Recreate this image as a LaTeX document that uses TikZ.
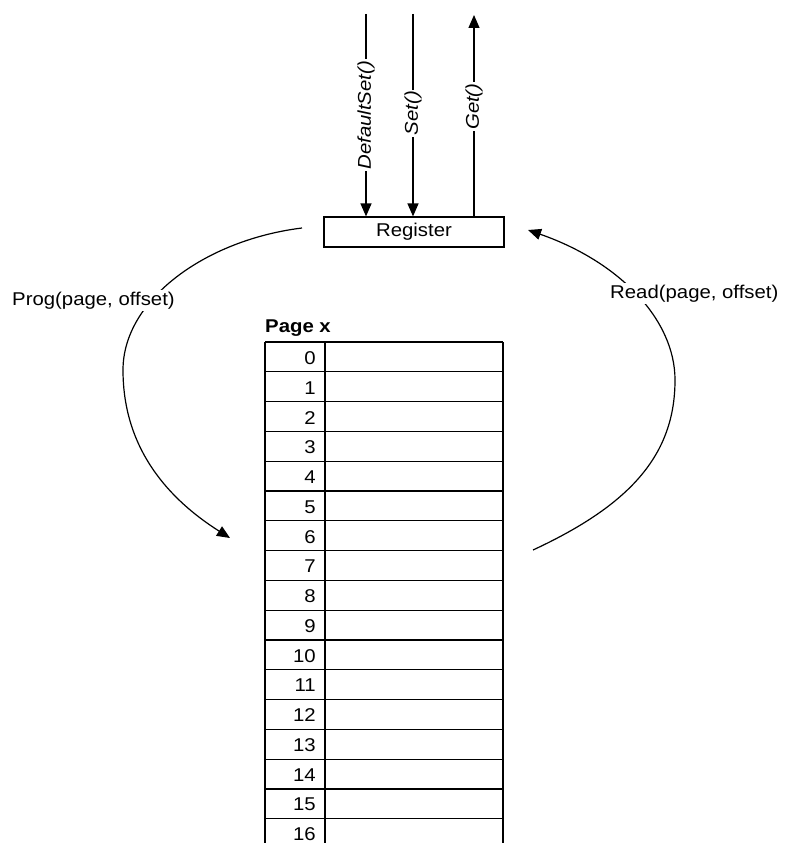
\documentclass[tikz,border=0pt]{standalone}
\usepackage{fontspec}
\setmainfont{Liberation Sans}[FakeStretch=1.1]
\usetikzlibrary{arrows.meta}
\tikzset{
  ln/.style={line width=1.2pt, draw=black},
  arr/.style={ln, -{Triangle[length=13pt,width=11pt]}},
  txt/.style={font=\fontsize{18.5}{21}\selectfont, inner sep=1pt},
  vlab/.style={txt, font=\fontsize{18.5}{21}\selectfont\itshape, fill=white, rotate=90, inner sep=1.5pt},
  clab/.style={txt, fill=white, inner sep=3pt},
  regbox/.style={ln, rectangle, minimum width=180pt, minimum height=30pt, inner sep=0pt,
                 font=\fontsize{18.5}{21}\selectfont},
  num/.style={txt, anchor=base east, inner sep=0pt}
}
\begin{document}
\begin{tikzpicture}[x=1pt, y=-1pt]
\useasboundingbox (0,0) rectangle (790,843);

% Register
\node[regbox] (reg) at (414,232) {Register};

% top connectors
\coordinate (dstop) at (366,14);
\coordinate (settop) at (413,14);
\coordinate (gettop) at (474,15);
\draw[arr] (dstop) -- (dstop |- reg.north) node[vlab, pos=0.5] (dslab) {DefaultSet()};
\draw[arr] (settop) -- (settop |- reg.north) node[vlab, pos=0.49] (setlab) {Set()};
\draw[arr] (gettop |- reg.north) -- (gettop) node[vlab, pos=0.545] (getlab) {Get()};

% Prog curve
\coordinate (progstart) at (302,228);
\coordinate (progend) at (230,538);
\draw[arr] (progstart) .. controls (205,240) and (123,300) .. (123,370)
  .. controls (123,450) and (170,500) .. (progend);
\node[clab, anchor=base west, inner sep=2pt] (prog) at (10,305) {Prog(page, offset)};

% Read curve
\coordinate (readstart) at (533,550);
\coordinate (readend) at (528,230);
\draw[arr] (readstart) .. controls (630,505) and (675,455) .. (675,380)
  .. controls (675,320) and (620,262) .. (readend);
\node[clab, anchor=base west, inner sep=2pt] (read) at (608,298) {Read(page, offset)};

% Page table
\node[txt, anchor=base west, inner sep=0pt, font=\fontsize{18.5}{21}\selectfont\bfseries] (pagex) at (265,332) {Page x};
\draw[ln] (265,342) -- (265,843);
\draw[ln] (325,342) -- (325,843);
\draw[ln] (503,342) -- (503,843);
\foreach \k in {0,...,16} {
  \draw[ln] (265,342+29.8*\k) -- (503,342+29.8*\k);
}
\foreach \k in {0,...,16} {
  \node[num] (n\k) at (316,364.5+29.75*\k) {\k};
}
\end{tikzpicture}
\end{document}
